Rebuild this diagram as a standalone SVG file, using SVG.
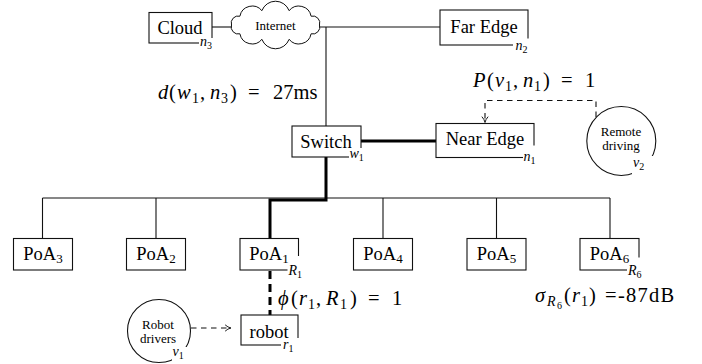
<svg xmlns="http://www.w3.org/2000/svg" width="702" height="364" viewBox="0 0 702 364">
<style>
text{font-family:"Liberation Serif","DejaVu Serif",serif;fill:#000}
.box{fill:#fff;stroke:#111;stroke-width:1.1}
.bg{fill:#fff;stroke:none}
.nl{font-size:18.5px;text-anchor:middle}
.lab{font-size:14px;font-style:italic}
.sub{font-size:10px;font-style:normal}
.ln{fill:none;stroke:#111;stroke-width:1.1}
.thick{fill:none;stroke:#000;stroke-width:3}
.dash{fill:none;stroke:#111;stroke-width:1.1;stroke-dasharray:5.5 4.5}
.tdash{fill:none;stroke:#000;stroke-width:3;stroke-dasharray:8 5}
.math{font-size:20.5px}
.it{font-style:italic}
.ms{font-size:14px;font-style:normal}
.circ{fill:#fff;stroke:#111;stroke-width:1.1}
.small{font-size:13px;text-anchor:middle}
</style>
<defs>
<marker id="arr" viewBox="0 0 10 10" refX="9.5" refY="5" markerWidth="9" markerHeight="9" orient="auto" markerUnits="userSpaceOnUse">
<path d="M3,1.5 Q6,4.3 9.5,5 Q6,5.7 3,8.5" fill="none" stroke="#000" stroke-width="1"/>
</marker>
</defs>
<g id="connectors">
<path class="ln" d="M212,27 H232"/>
<path class="ln" d="M319,27 H440"/>
<path class="ln" d="M326,27 V126"/>
<path class="thick" d="M361,141 H436"/>
<path class="ln" d="M42.5,198 H610"/>
<path class="ln" d="M42.5,198 V238"/>
<path class="ln" d="M156,198 V238"/>
<path class="ln" d="M383,198 V238"/>
<path class="ln" d="M496.5,198 V238"/>
<path class="ln" d="M610,198 V238"/>
<path class="thick" d="M326,157 V200 H270 V238.5"/>
<path class="tdash" d="M270,271 V315"/>
<path class="dash" d="M596,117 V100.5 H485 V122.5" marker-end="url(#arr)"/>
<path class="dash" d="M191,328 H231" marker-end="url(#arr)"/>
</g>
<g id="cloud">
<rect class="box" x="149" y="12.5" width="63" height="30.5"/>
<rect class="bg" x="199" y="38" width="20" height="13"/>
<text class="lab" x="200" y="45.5">n<tspan class="sub" dy="3">3</tspan></text>
<text class="nl" x="180" y="33.5">Cloud</text>
</g>
<g id="internet">
<path fill="#fff" stroke="#111" stroke-width="1" d="M319.5,25 A7,7 0 0 1 311.1,33.8 A12.5,12.5 0 0 1 289.1,39.3 A14.5,14.5 0 0 1 261.9,39.3 A12.5,12.5 0 0 1 239.9,33.8 A7,7 0 0 1 231.5,25 A7,7 0 0 1 239.9,16.2 A12.5,12.5 0 0 1 261.9,10.7 A14.5,14.5 0 0 1 289.1,10.7 A12.5,12.5 0 0 1 311.1,16.2 A7,7 0 0 1 319.5,25 Z"/>
<text class="small" x="275.5" y="30" font-size="12.5px">Internet</text>
</g>
<g id="far-edge">
<rect class="box" x="440" y="10" width="88" height="35"/>
<rect class="bg" x="513" y="38.5" width="22" height="17"/>
<text class="lab" x="515.5" y="50">n<tspan class="sub" dy="3">2</tspan></text>
<text class="nl" x="484" y="33">Far Edge</text>
</g>
<g id="switch">
<rect class="box" x="292" y="126" width="69" height="31"/>
<rect class="bg" x="349" y="148" width="25" height="16"/>
<text class="lab" x="349.5" y="158">w<tspan class="sub" dy="3">1</tspan></text>
<text class="nl" x="326" y="148">Switch</text>
</g>
<g id="near-edge">
<rect class="box" x="436" y="123.5" width="98" height="34"/>
<rect class="bg" x="523" y="145.5" width="22" height="19"/>
<text class="lab" x="523.5" y="161">n<tspan class="sub" dy="3">1</tspan></text>
<text class="nl" x="485" y="145">Near Edge</text>
</g>
<g id="remote-driving">
<circle class="circ" cx="621.3" cy="141" r="34.5"/>
<rect class="bg" x="632" y="156" width="22" height="18"/>
<text class="lab" x="633" y="167">v<tspan class="sub" dy="3">2</tspan></text>
<text class="small" x="621" y="136">Remote</text>
<text class="small" x="621" y="150">driving</text>
</g>
<g id="poa3">
<rect class="box" x="13.5" y="238.5" width="59" height="31.5"/>
<text class="nl" x="43" y="260">PoA<tspan font-size="13" dy="3">3</tspan></text>
</g>
<g id="poa2">
<rect class="box" x="126.5" y="238.5" width="59" height="31.5"/>
<text class="nl" x="156" y="260">PoA<tspan font-size="13" dy="3">2</tspan></text>
</g>
<g id="poa1">
<rect class="box" x="240" y="238.5" width="58.5" height="31.5"/>
<rect class="bg" x="287.5" y="256" width="24" height="22"/>
<text class="lab" x="288.5" y="275">R<tspan class="sub" dy="2.5">1</tspan></text>
<text class="nl" x="269" y="260">PoA<tspan font-size="13" dy="3">1</tspan></text>
</g>
<g id="poa4">
<rect class="box" x="353.5" y="238.5" width="59" height="31.5"/>
<text class="nl" x="383" y="260">PoA<tspan font-size="13" dy="3">4</tspan></text>
</g>
<g id="poa5">
<rect class="box" x="467" y="238.5" width="59" height="31.5"/>
<text class="nl" x="496.5" y="260">PoA<tspan font-size="13" dy="3">5</tspan></text>
</g>
<g id="poa6">
<rect class="box" x="580" y="238.5" width="59" height="31.5"/>
<rect class="bg" x="627" y="257.5" width="24" height="22"/>
<text class="lab" x="628" y="275">R<tspan class="sub" dy="2.5">6</tspan></text>
<text class="nl" x="609.5" y="260">PoA<tspan font-size="13" dy="3">6</tspan></text>
</g>
<g id="robot">
<rect class="box" x="241" y="315" width="57" height="30"/>
<rect class="bg" x="281" y="338" width="21" height="16"/>
<text class="lab" x="283" y="348.5">r<tspan class="sub" dy="3">1</tspan></text>
<text class="nl" x="269" y="337.5">robot</text>
</g>
<g id="robot-drivers">
<circle class="circ" cx="159" cy="331" r="31.5"/>
<rect class="bg" x="172" y="347" width="22" height="16"/>
<text class="lab" x="172.5" y="356">v<tspan class="sub" dy="3">1</tspan></text>
<text class="small" x="158" y="328.5">Robot</text>
<text class="small" x="158" y="343">drivers</text>
</g>
<g id="labels">
<text class="math"><tspan class="it" x="158" y="99">d</tspan><tspan x="169" y="99">(</tspan><tspan class="it" x="177" y="99">w</tspan><tspan class="ms" x="192" y="103">1</tspan><tspan x="200" y="99">,</tspan><tspan class="it" x="210" y="99">n</tspan><tspan class="ms" x="221" y="103">3</tspan><tspan x="230" y="99">)</tspan><tspan x="248" y="99">=</tspan><tspan x="273" y="99">27ms</tspan></text>
<text class="math"><tspan class="it" x="473" y="87">P</tspan><tspan x="487" y="87">(</tspan><tspan class="it" x="495" y="87">v</tspan><tspan class="ms" x="505" y="91">1</tspan><tspan x="513" y="87">,</tspan><tspan class="it" x="523" y="87">n</tspan><tspan class="ms" x="534" y="91">1</tspan><tspan x="543" y="87">)</tspan><tspan x="561" y="87">=</tspan><tspan x="585" y="87">1</tspan></text>
<text class="math"><tspan class="it" x="278" y="305">ϕ</tspan><tspan x="291" y="305">(</tspan><tspan class="it" x="299" y="305">r</tspan><tspan class="ms" x="308" y="309">1</tspan><tspan x="316" y="305">,</tspan><tspan class="it" x="326" y="305">R</tspan><tspan class="ms" x="340" y="309">1</tspan><tspan x="350" y="305">)</tspan><tspan x="368" y="305">=</tspan><tspan x="392" y="305">1</tspan></text>
<text class="math"><tspan class="it" x="535" y="302">σ</tspan><tspan class="it" font-size="14" x="547" y="306">R</tspan><tspan font-size="10" x="557" y="309">6</tspan><tspan x="564" y="302">(</tspan><tspan class="it" x="572" y="302">r</tspan><tspan class="ms" x="581" y="306">1</tspan><tspan x="589" y="302">)</tspan><tspan x="605" y="302">=</tspan><tspan x="618" y="302" letter-spacing="1.2">-87dB</tspan></text>
</g>
</svg>
